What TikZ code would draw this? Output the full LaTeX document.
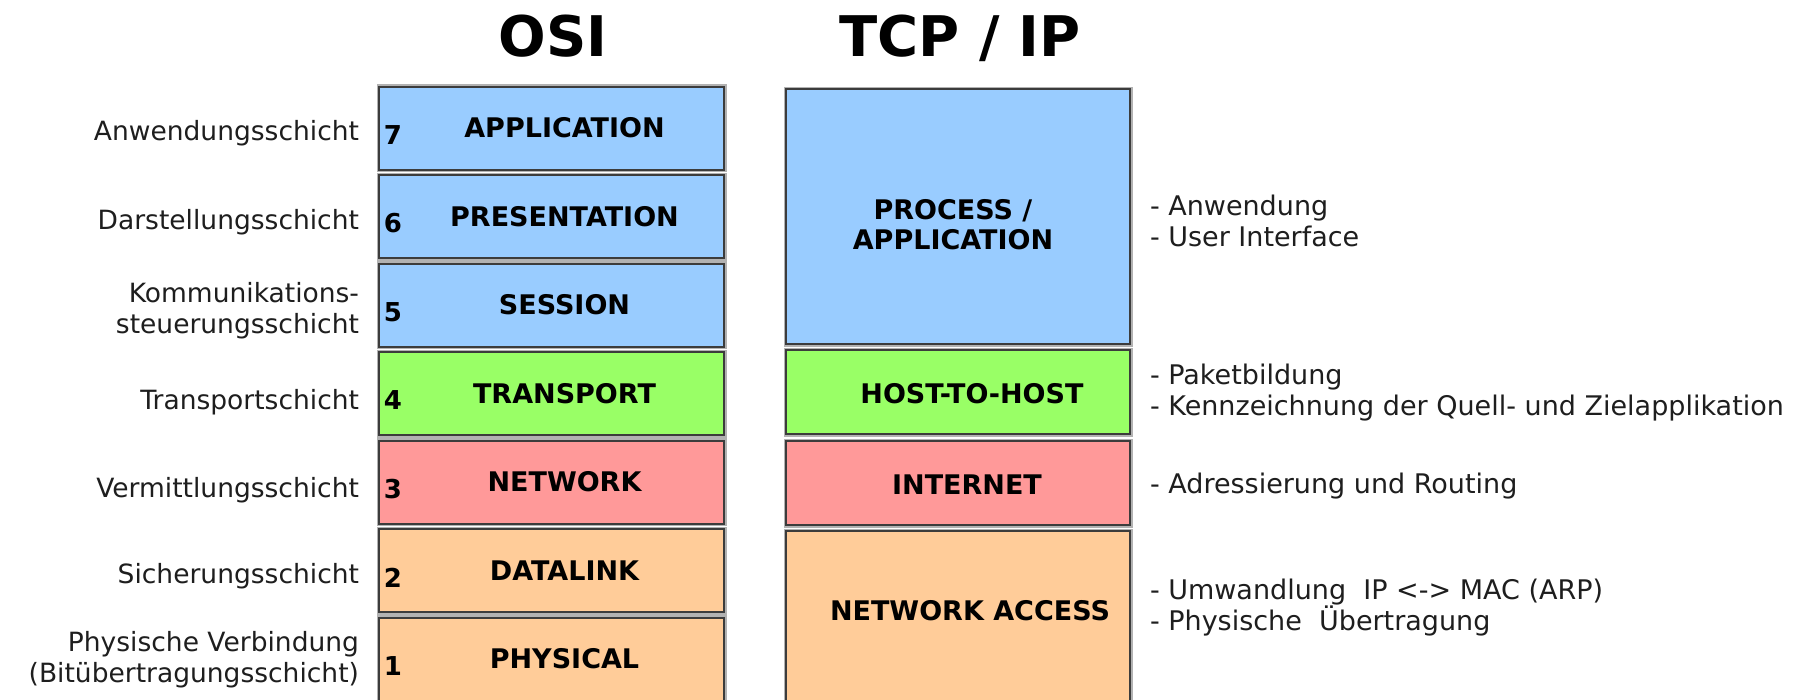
\documentclass[tikz,border=0pt]{standalone}
\usepackage{fontspec}
\setmainfont{DejaVu Sans}
\usetikzlibrary{positioning}

\definecolor{appblue}{HTML}{99CCFF}
\definecolor{transgreen}{HTML}{99FF66}
\definecolor{netred}{HTML}{FF9999}
\definecolor{linkorange}{HTML}{FFCC99}
\definecolor{boxline}{HTML}{3C3C3C}
\definecolor{labeltext}{HTML}{1E1E1E}

\begin{document}
\begin{tikzpicture}[x=1pt, y=-1pt]

\clip (0,0) rectangle (1805,699);
\fill[white] (0,0) rectangle (1805,699);

\tikzset{
  layerbox/.style={draw=boxline, line width=2pt, inner sep=0pt,
                   preaction={draw=black!30, line width=5pt}},
  osibox/.style={layerbox, minimum width=345pt, minimum height=83pt},
  tcpbox/.style={layerbox, minimum width=344pt},
  boxtext/.style={font=\bfseries\fontsize{27}{30}\selectfont, align=center},
  numtext/.style={font=\bfseries\fontsize{26}{30}\selectfont},
  title/.style={anchor=base, font=\bfseries\fontsize{56}{60}\selectfont},
  germanleft/.style={anchor=east, align=right, text=labeltext,
                     font=\fontsize{26.5}{31}\selectfont},
  germanright/.style={anchor=west, align=left, text=labeltext,
                      font=\fontsize{27}{31}\selectfont}
}

\node[title] (osititle) at (553,56) {OSI};
\node[title] (tcptitle) at (960,56) {TCP / IP};

\node[osibox, fill=appblue]    (osi7) at (551.5,128)   {};
\node[osibox, fill=appblue]    (osi6) at (551.5,216.5) {};
\node[osibox, fill=appblue]    (osi5) at (551.5,305)   {};
\node[osibox, fill=transgreen] (osi4) at (551.5,393.5) {};
\node[osibox, fill=netred]     (osi3) at (551.5,482)   {};
\node[osibox, fill=linkorange] (osi2) at (551.5,570.5) {};
\node[osibox, fill=linkorange] (osi1) at (551.5,659)   {};

\node[boxtext] at ([xshift=13pt]osi7.center) {APPLICATION};
\node[boxtext] at ([xshift=13pt]osi6.center) {PRESENTATION};
\node[boxtext] at ([xshift=13pt]osi5.center) {SESSION};
\node[boxtext] at ([xshift=13pt]osi4.center) {TRANSPORT};
\node[boxtext] at ([xshift=13pt]osi3.center) {NETWORK};
\node[boxtext] at ([xshift=13pt]osi2.center) {DATALINK};
\node[boxtext] at ([xshift=13pt]osi1.center) {PHYSICAL};

\node[numtext] at ([xshift=15pt,yshift=-7pt]osi7.west) {7};
\node[numtext] at ([xshift=15pt,yshift=-7pt]osi6.west) {6};
\node[numtext] at ([xshift=15pt,yshift=-7pt]osi5.west) {5};
\node[numtext] at ([xshift=15pt,yshift=-7pt]osi4.west) {4};
\node[numtext] at ([xshift=15pt,yshift=-7pt]osi3.west) {3};
\node[numtext] at ([xshift=15pt,yshift=-7pt]osi2.west) {2};
\node[numtext] at ([xshift=15pt,yshift=-7pt]osi1.west) {1};

\node[tcpbox, fill=appblue,    minimum height=255pt] (tcpapp)  at (958,216.5) {};
\node[tcpbox, fill=transgreen, minimum height=84pt]  (tcphost) at (958,392)   {};
\node[tcpbox, fill=netred,     minimum height=84pt]  (tcpinet) at (958,483)   {};
\node[tcpbox, fill=linkorange, minimum height=174pt] (tcpnet)  at (958,618)   {};

\node[boxtext] at (953,225) {PROCESS /\\APPLICATION};
\node[boxtext] at (972,394) {HOST-TO-HOST};
\node[boxtext] at (967,485) {INTERNET};
\node[boxtext] at (970,611) {NETWORK ACCESS};

\node[germanleft] (de7) at ([xshift=-15.5pt,yshift=-5.5pt]osi7.west) {Anwendungsschicht};
\node[germanleft] (de6) at ([xshift=-15.5pt,yshift=-5.5pt]osi6.west) {Darstellungsschicht};
\node[germanleft] (de5) at ([xshift=-15.5pt,yshift=-5.5pt]osi5.west) {Kommunikations-\\steuerungsschicht};
\node[germanleft] (de4) at ([xshift=-15.5pt,yshift=-8.5pt]osi4.west) {Transportschicht};
\node[germanleft] (de3) at ([xshift=-15.5pt,yshift=-8.5pt]osi3.west) {Vermittlungsschicht};
\node[germanleft] (de2) at ([xshift=-15.5pt,yshift=-5.5pt]osi2.west) {Sicherungsschicht};
\node[germanleft] (de1) at ([xshift=-15.5pt,yshift=-0.5pt]osi1.west) {Physische Verbindung\\(Bitübertragungsschicht)};

\node[germanright] (noteapp)  at (1146.5,221) {- Anwendung\\- User Interface};
\node[germanright] (notehost) at (1146.5,393) {- Paketbildung\\- Kennzeichnung der Quell- und Zielapplikation};
\node[germanright] (noteinet) at (1146.5,486) {- Adressierung und Routing};
\node[germanright] (notenet)  at (1146.5,608) {- Umwandlung\ \ IP <-> MAC (ARP)\\- Physische\ \ Übertragung};

\end{tikzpicture}
\end{document}
